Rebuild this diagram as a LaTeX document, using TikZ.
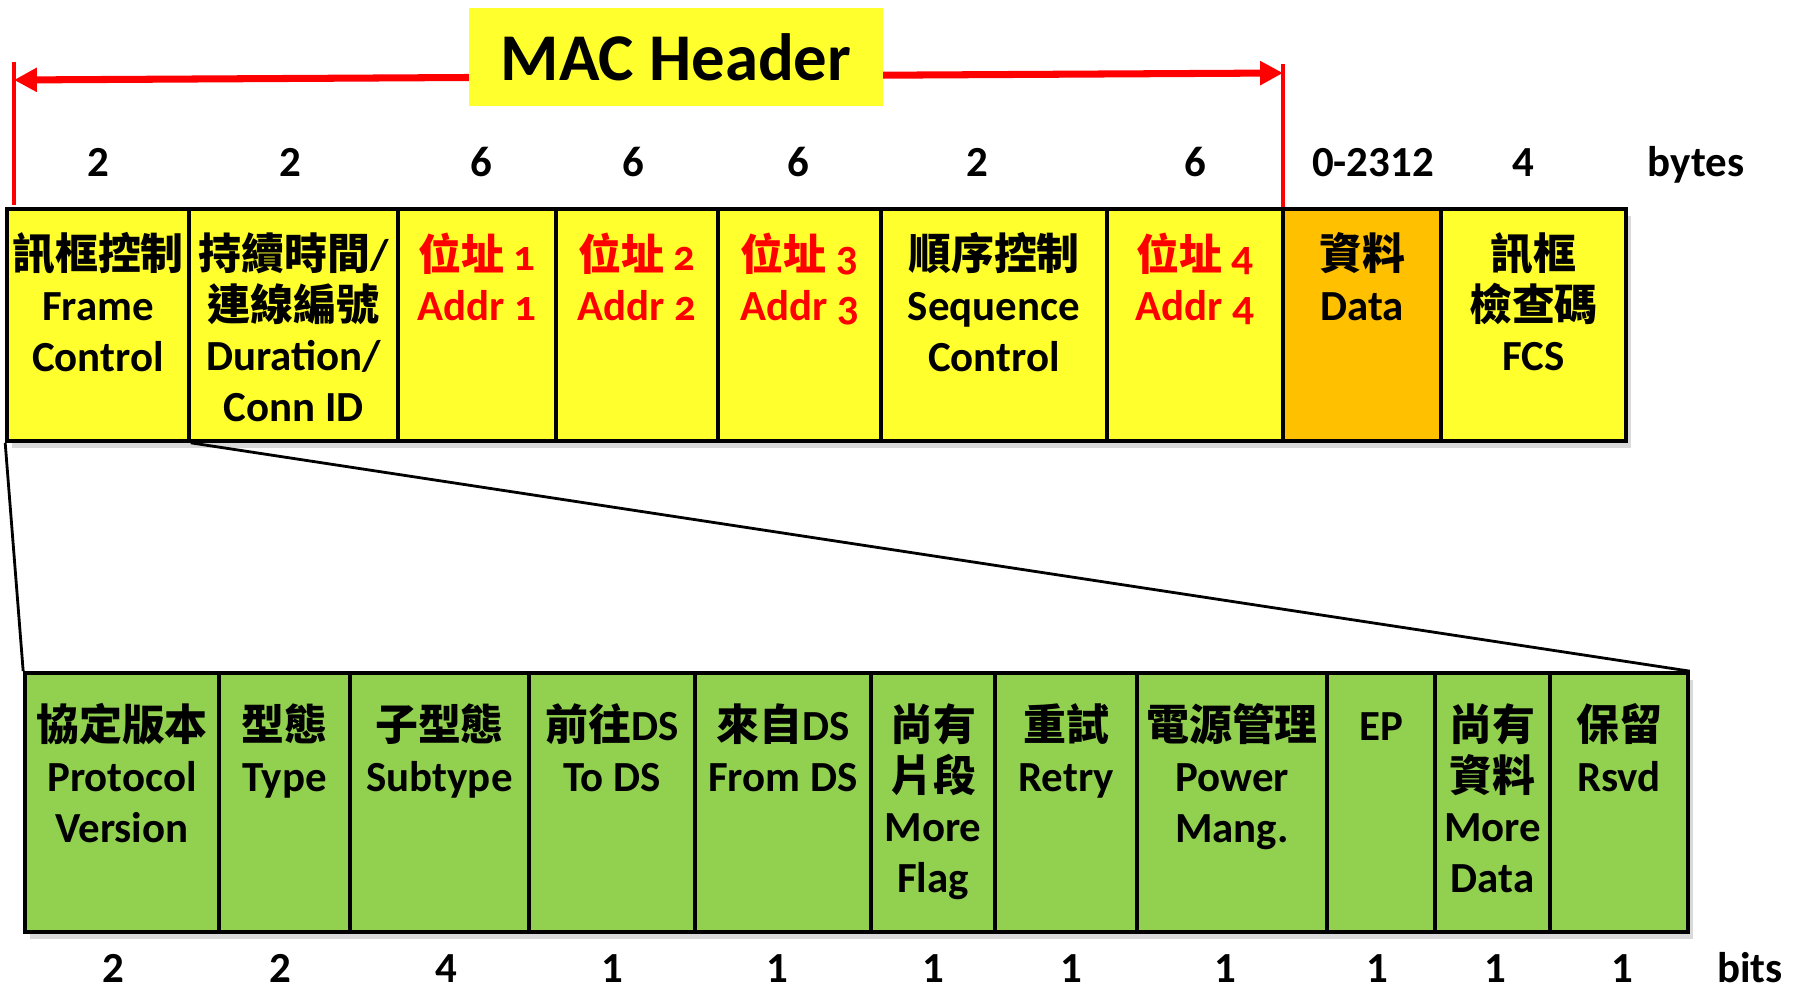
\documentclass[tikz,border=0pt]{standalone}
\usepackage{fontspec}
\setmainfont{Carlito}
\newfontfamily\cjk{Noto Sans CJK TC}
\newfontfamily\onum{Carlito}[Numbers=OldStyle]
\usetikzlibrary{arrows.meta,shadows}

\definecolor{fieldyellow}{HTML}{FFFF2E}
\definecolor{dataorange}{HTML}{FFC000}
\definecolor{flaggreen}{HTML}{92D050}

\newcommand{\zh}[1]{{\cjk #1}}
\newcommand{\nr}[1]{{\onum #1}}

\begin{document}
\begin{tikzpicture}[x=0.01cm, y=-0.01cm,
    font=\bfseries\fontsize{12.2}{14.4}\selectfont,
    field/.style={draw, line width=1pt, fill=fieldyellow, inner sep=0pt,
        minimum height=2.32cm,
        drop shadow={shadow xshift=1.5pt, shadow yshift=-2pt, opacity=0.3}},
    bitfield/.style={field, fill=flaggreen, minimum height=2.59cm},
    caption/.style={anchor=north, align=center, inner sep=0pt},
    size/.style={anchor=base, inner sep=0pt},
    span/.style={red, line width=1.3pt},
  ]
  \useasboundingbox (0,0) rectangle (1794,988);

  % MAC header span
  \coordinate (hl) at (14,80);
  \coordinate (hr) at (1283,73);
  \draw[span] (14,62) -- (14,205);
  \draw[span] (1283,64) -- (1283,209);
  \draw[span, line width=2pt, {Triangle[length=6.5pt,width=6.5pt]}-{Triangle[length=6.5pt,width=6.5pt]}] (hl) -- (hr);
  \node[fill=fieldyellow, minimum width=4.14cm, minimum height=0.97cm,
      font=\bfseries\fontsize{19}{22}\selectfont] (mac) at (676,57) {MAC Header};

  % frame fields (bytes)
  \foreach \a/\b/\name/\col/\ink/\txt in {
      7/189/fc/fieldyellow/black/{\zh{訊框控制}\\Frame\\Control},
      189/398/dur/fieldyellow/black/{\zh{持續時間}/\\\zh{連線編號}\\Duration/\\Conn ID},
      398/556/addra/fieldyellow/red/{\zh{位址} \nr{1}\\Addr \nr{1}},
      556/718/addrb/fieldyellow/red/{\zh{位址} \nr{2}\\Addr \nr{2}},
      718/881/addrc/fieldyellow/red/{\zh{位址} \nr{3}\\Addr \nr{3}},
      881/1107/seq/fieldyellow/black/{\zh{順序控制}\\Sequence\\Control},
      1107/1283/addrd/fieldyellow/red/{\zh{位址} \nr{4}\\Addr \nr{4}},
      1283/1441/data/dataorange/black/{\zh{資料}\\Data},
      1441/1626/fcs/fieldyellow/black/{\zh{訊框}\\\zh{檢查碼}\\FCS}%
  }{
    \pgfmathsetmacro\w{(\b-\a)/100}
    \node[field, fill=\col, minimum width=\w cm] (\name) at ({(\a+\b)/2},325) {};
    \node[caption, text=\ink] (\name-txt) at (\name |- 0,232) {\txt};
  }

  % frame control fields (bits)
  \foreach \a/\b/\name/\txt in {
      25/219/pv/{\zh{協定版本}\\Protocol\\Version},
      219/350/type/{\zh{型態}\\Type},
      350/529/sub/{\zh{子型態}\\Subtype},
      529/695/tods/{\zh{前往}DS\\To DS},
      695/871/fromds/{\zh{來自}DS\\From DS},
      871/995/morefrag/{\zh{尚有}\\\zh{片段}\\More\\Flag},
      995/1137/retry/{\zh{重試}\\Retry},
      1137/1327/pwr/{\zh{電源管理}\\Power\\Mang.},
      1327/1435/ep/{\vphantom{\zh{保}}EP},
      1435/1550/moredata/{\zh{尚有}\\\zh{資料}\\More\\Data},
      1550/1688/rsvd/{\zh{保留}\\Rsvd}%
  }{
    \pgfmathsetmacro\w{(\b-\a)/100}
    \node[bitfield, minimum width=\w cm] (\name) at ({(\a+\b)/2},802.5) {};
    \node[caption] (\name-txt) at (\name |- 0,703) {\txt};
  }

  \draw[line width=0.8pt] (fc.south west) -- (pv.north west);
  \draw[line width=0.8pt] (fc.south east) -- (rsvd.north east);

  % sizes
  \foreach \x/\n [count=\i] in {98/2, 290/2, 481/6, 633/6, 798/6, 977/2,
      1195/6, 1373/0-2312, 1523/4, 1696/bytes}
    \node[size] (byte\i) at (\x,176) {\n};
  \foreach \x/\n [count=\i] in {113/2, 280/2, 446/4, 612/1, 777/1, 933/1,
      1071/1, 1225/1, 1377/1, 1495/1, 1622/1, 1750/bits}
    \node[size] (bit\i) at (\x,982) {\n};
\end{tikzpicture}
\end{document}
